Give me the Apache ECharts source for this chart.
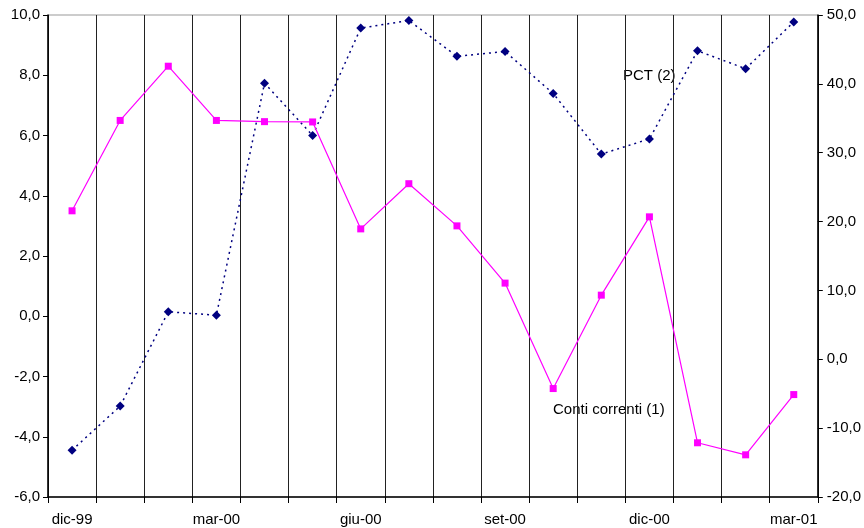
<!DOCTYPE html>
<html>
<head>
<meta charset="utf-8">
<script src="https://cdn.jsdelivr.net/npm/echarts@6/dist/echarts.min.js"></script>
<style>
  html, body { margin: 0; padding: 0; background: #fff; }
  #chart { width: 864px; height: 528px; }
</style>
</head>
<body>
<div id="chart"></div>
<script>
// Monthly categories, Dec 1999 - Mar 2001
var months = ['dic-99', 'gen-00', 'feb-00', 'mar-00', 'apr-00', 'mag-00', 'giu-00', 'lug-00',
              'ago-00', 'set-00', 'ott-00', 'nov-00', 'dic-00', 'gen-01', 'feb-01', 'mar-01'];

// Conti correnti (1) - left axis
var contiCorrenti = [3.5, 6.5, 8.3, 6.5, 6.46, 6.45, 2.9, 4.4, 3.0, 1.1, -2.4, 0.7, 3.3, -4.2, -4.6, -2.6];

// PCT (2) - right axis
var pct = [-13.2, -6.8, 6.9, 6.4, 40.1, 32.5, 48.1, 49.2, 44.0, 44.7, 38.6, 29.8, 32.0, 44.8, 42.2, 49.0];

var leftAxisRange = { min: -6, max: 10, interval: 2 };
var rightAxisRange = { min: -20, max: 50, interval: 10 };

var FONT = '"Liberation Sans", Arial, sans-serif';
var FONT_SIZE = 15;
function fmt(v) { return v.toFixed(1).replace('.', ','); }

var chart = echarts.init(document.getElementById('chart'), null, { renderer: 'canvas' });

chart.setOption({
  animation: false,
  backgroundColor: '#ffffff',
  grid: { left: 48, right: 45, top: 15, bottom: 31, show: true, borderColor: '#999', borderWidth: 1 },
  xAxis: {
    type: 'category',
    data: months,
    boundaryGap: true,
    axisLine: { show: true, onZero: false, lineStyle: { color: '#000', width: 1.5 } },
    axisTick: { show: true, interval: 0, alignWithLabel: false, length: 6, lineStyle: { color: '#000' } },
    axisLabel: { interval: 2, color: '#000', fontFamily: FONT, fontSize: FONT_SIZE, margin: 15 },
    splitLine: { show: true, interval: 0, lineStyle: { color: '#222', width: 1 } }
  },
  yAxis: [
    {
      type: 'value',
      min: leftAxisRange.min, max: leftAxisRange.max, interval: leftAxisRange.interval,
      position: 'left',
      axisLine: { show: true, onZero: false, lineStyle: { color: '#000', width: 1.5 } },
      axisTick: { show: true, inside: false, length: 5, lineStyle: { color: '#000' } },
      axisLabel: { color: '#000', fontFamily: FONT, fontSize: FONT_SIZE, margin: 8, formatter: fmt },
      splitLine: { show: false }
    },
    {
      type: 'value',
      min: rightAxisRange.min, max: rightAxisRange.max, interval: rightAxisRange.interval,
      position: 'right',
      axisLine: { show: true, onZero: false, lineStyle: { color: '#000', width: 1.5 } },
      axisTick: { show: true, inside: false, length: 5, lineStyle: { color: '#000' } },
      axisLabel: { color: '#000', fontFamily: FONT, fontSize: FONT_SIZE, margin: 9, formatter: fmt },
      splitLine: { show: false }
    }
  ],
  series: [
    {
      name: 'PCT (2)',
      type: 'line',
      yAxisIndex: 1,
      data: pct,
      symbol: 'diamond',
      symbolSize: 9,
      itemStyle: { color: '#000080' },
      lineStyle: { color: '#000080', width: 1.5, type: [2, 4] },
      z: 3
    },
    {
      name: 'Conti correnti (1)',
      type: 'line',
      yAxisIndex: 0,
      data: contiCorrenti,
      symbol: 'rect',
      symbolSize: 7,
      itemStyle: { color: '#ff00ff' },
      lineStyle: { color: '#ff00ff', width: 1.2 },
      z: 4
    }
  ],
  graphic: [
    { type: 'text', left: 623, top: 68, style: { text: 'PCT (2)', fill: '#000', font: FONT_SIZE + 'px ' + FONT } },
    { type: 'text', left: 553, top: 402, style: { text: 'Conti correnti (1)', fill: '#000', font: FONT_SIZE + 'px ' + FONT } }
  ]
});
</script>
</body>
</html>
